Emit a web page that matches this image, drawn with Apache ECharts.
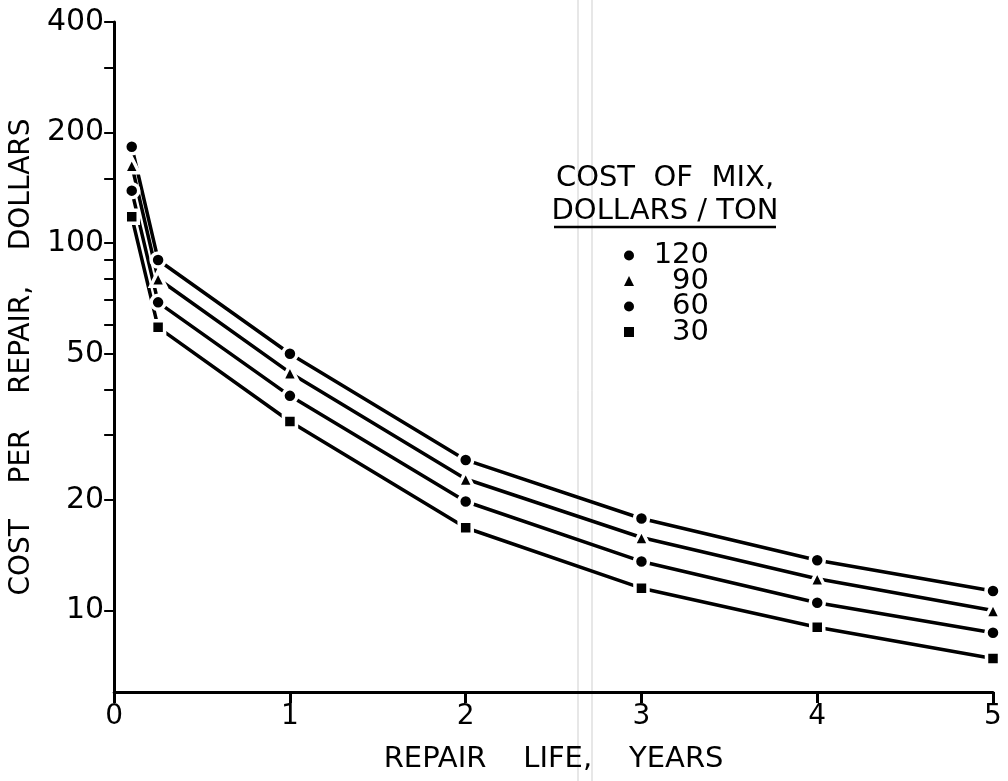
<!DOCTYPE html>
<html lang="en">
<head>
    <meta charset="UTF-8">
    <title>Cost per repair vs repair life</title>
    <script src="https://cdn.jsdelivr.net/npm/echarts@6/dist/echarts.min.js"></script>
    <style type="text/css">
        html, body{
            margin: 0;
            padding: 0;
            background: #fff;
        }
        #main{
            width: 1008px;
            height: 781px;
        }
    </style>
</head>
<body>
    <div id="main"></div>
    <script>
        // repair life, years
        var years = [0.1, 0.25, 1, 2, 3, 4, 5];
        // cost per repair, dollars
        var mix120 = [183, 90, 50, 25.7, 17.8, 13.7, 11.3];
        var mix90  = [163, 80, 44.4, 22.8, 15.8, 12.2, 10.0];
        var mix60  = [139, 69, 38.4, 19.8, 13.6, 10.5, 8.7];
        var mix30  = [118, 59, 32.7, 16.8, 11.5, 9.0, 7.4];
        var seriesNames = ['120', '90', '60', '30'];
        var yLabels = [10, 20, 50, 100, 200, 400];
        var yTicks = [10, 20, 30, 40, 50, 60, 70, 80, 90, 100, 150, 200, 300, 400];

        var font = '"DejaVu Sans", sans-serif';
        var myChart = echarts.init(document.getElementById('main'));

        function pairs(ys) {
            return years.map(function (x, i) { return [x, ys[i]]; });
        }
        function makeSeries(name, ys, symbol, size) {
            return {
                name: name,
                type: 'line',
                data: pairs(ys),
                symbol: symbol,
                symbolSize: size,
                showSymbol: true,
                lineStyle: { color: '#000', width: 3.5 },
                itemStyle: { color: '#000', borderColor: '#fff', borderWidth: 3.5 },
                emphasis: { disabled: true },
                animation: false
            };
        }

        var option = {
            backgroundColor: '#fff',
            textStyle: { fontFamily: font, color: '#000' },
            grid: { left: 110, right: 15, top: 22, bottom: 89 },
            legend: {
                orient: 'vertical',
                left: 619,
                top: 236,
                itemWidth: 10,
                itemHeight: 10,
                itemGap: -3.5,
                itemStyle: { borderWidth: 0 },
                formatter: function (name) { return '{n|' + name + '}'; },
                textStyle: {
                    rich: {
                        n: { width: 70, align: 'right', fontSize: 29, lineHeight: 29, fontFamily: font, color: '#000' }
                    }
                },
                selectedMode: false
            },
            graphic: [
                // faint scan fold lines
                { type: 'line', shape: { x1: 578, y1: 0, x2: 578, y2: 781 }, style: { stroke: '#cfcfcf', lineWidth: 1 } },
                { type: 'line', shape: { x1: 592, y1: 0, x2: 592, y2: 781 }, style: { stroke: '#cfcfcf', lineWidth: 1 } },
                {
                    type: 'text', x: 665, y: 178,
                    style: { text: 'COST  OF  MIX,', font: '29px ' + font, fill: '#000', align: 'center', verticalAlign: 'middle' }
                },
                {
                    type: 'text', x: 665, y: 211,
                    style: { text: 'DOLLARS / TON', font: '29px ' + font, fill: '#000', align: 'center', verticalAlign: 'middle' }
                },
                { type: 'line', shape: { x1: 554, y1: 227, x2: 776, y2: 227 }, style: { stroke: '#000', lineWidth: 2.5 } }
            ],
            xAxis: {
                type: 'value',
                min: 0,
                max: 5,
                interval: 1,
                name: 'REPAIR    LIFE,    YEARS',
                nameLocation: 'middle',
                nameGap: 53,
                nameTextStyle: { fontSize: 29, color: '#000', fontFamily: font },
                axisLine: { onZero: false, lineStyle: { color: '#000', width: 3 } },
                axisTick: { length: 11, lineStyle: { color: '#000', width: 3 } },
                axisLabel: { fontSize: 28, color: '#000', margin: 11, fontFamily: font },
                splitLine: { show: false }
            },
            yAxis: {
                type: 'log',
                logBase: 10,
                min: 6,
                max: 400,
                name: 'COST    PER    REPAIR,    DOLLARS',
                nameLocation: 'middle',
                nameGap: 72,
                nameRotate: 90,
                nameTextStyle: { fontSize: 28, color: '#000', fontFamily: font },
                axisLine: { lineStyle: { color: '#000', width: 3 } },
                axisTick: { length: 10, customValues: yTicks, lineStyle: { color: '#000', width: 2 } },
                axisLabel: { fontSize: 30, color: '#000', margin: 10, customValues: yLabels, fontFamily: font },
                splitLine: { show: false },
                minorTick: { show: false }
            },
            series: [
                makeSeries(seriesNames[0], mix120, 'circle', 14),
                makeSeries(seriesNames[1], mix90, 'triangle', 15),
                makeSeries(seriesNames[2], mix60, 'circle', 14),
                makeSeries(seriesNames[3], mix30, 'rect', 13)
            ]
        };
        option.legend.data = [
            { name: seriesNames[0], icon: 'circle' },
            { name: seriesNames[1], icon: 'triangle' },
            { name: seriesNames[2], icon: 'circle' },
            { name: seriesNames[3], icon: 'rect' }
        ];
        myChart.setOption(option);
    </script>
</body>
</html>
